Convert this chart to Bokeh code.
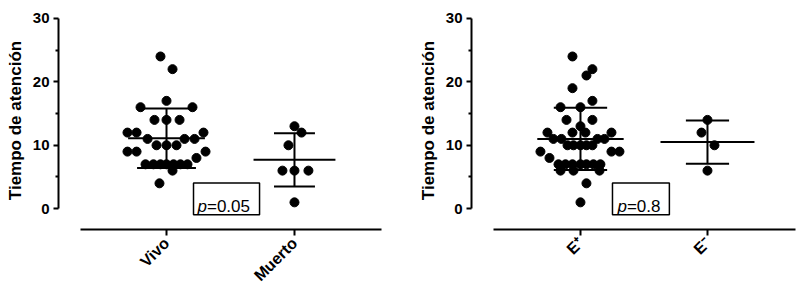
from math import pi
from bokeh.plotting import figure
from bokeh.layouts import row
from bokeh.models import FixedTicker, Label, BoxAnnotation, ColumnDataSource, Range1d
from bokeh.embed import file_html
from bokeh.resources import INLINE

# ---------------- data ----------------
# Left panel: Vivo / Muerto
left_groups = ["Vivo", "Muerto"]
vivo_values = [24, 22, 17, 16, 16, 14, 14, 14, 12, 12, 12, 11, 11, 11, 10, 10, 10,
               9, 9, 9, 8, 7, 7, 7, 7, 7, 7, 7, 6, 4]
muerto_values = [13, 12, 10, 6, 6, 6, 1]
left_mean = [11.1, 7.7]
left_sd = [4.7, 4.2]
left_p = "0.05"

# Right panel: E+ / E-
right_groups = ["E\u207a", "E\u207b"]
eplus_values = [24, 22, 21, 19, 17, 16, 16, 14, 14, 13, 12, 12, 12, 12, 11, 11, 11, 11,
                10, 10, 10, 10, 10, 9, 9, 9, 8, 7, 7, 7, 7, 7, 7, 7, 6, 6, 6, 4, 1]
eminus_values = [14, 12, 10, 6]
right_mean = [11.0, 10.5]
right_sd = [4.9, 3.4]
right_p = "0.8"

y_ticks = [0, 10, 20, 30]
y_minor = [5, 15, 25]
y_title = "Tiempo de atención"

# horizontal swarm offsets of the dots (category units)
vivo_swarm = [-0.047, 0.047, 0, -0.203, 0.203, -0.094, 0, 0.102, -0.305, -0.234, 0.289,
              -0.148, 0.141, 0.219, -0.078, 0, 0.078, -0.305, -0.234, 0.305, 0.234,
              -0.164, -0.102, -0.047, 0, 0.055, 0.109, 0.164, 0.047, -0.055]
muerto_swarm = [0, 0.055, -0.047, -0.094, 0, 0.109, 0]
eplus_swarm = [-0.063, 0.094, 0.047, -0.063, 0.094, -0.157, 0, -0.110, 0.094, 0,
               -0.260, -0.063, 0.039, 0.244, -0.213, -0.150, 0.134, 0.189,
               -0.102, -0.055, 0, 0.047, 0.094, -0.315, 0.244, 0.307, -0.244,
               -0.173, -0.118, -0.063, 0, 0.047, 0.102, 0.157, -0.157, -0.055, 0.150,
               0.047, 0]
eminus_swarm = [0, -0.047, 0.055, 0]

FONT = "Liberation Sans"


def make_panel(groups, series, swarms, means, sds, mean_half, cap_half, p_value,
               width, border_left, border_right, x0, x1, xb, box, text_x):
    p = figure(width=width, height=293,
               x_range=Range1d(x0, x1), y_range=Range1d(-3.28, 31.09),
               output_backend="svg", toolbar_location=None,
               min_border_left=border_left, min_border_right=border_right,
               min_border_top=11, min_border_bottom=62)
    p.outline_line_color = None
    p.xgrid.visible = False
    p.ygrid.visible = False
    p.background_fill_color = "white"
    p.border_fill_color = "white"

    # y axis
    ya = p.yaxis[0]
    ya.ticker = FixedTicker(ticks=y_ticks, minor_ticks=y_minor)
    ya.bounds = (0, 30)
    ya.axis_line_width = 2
    ya.major_tick_line_width = 2
    ya.minor_tick_line_width = 2
    ya.major_tick_out = 5
    ya.major_tick_in = 0
    ya.minor_tick_out = 3
    ya.minor_tick_in = 0
    ya.major_label_standoff = 4
    ya.major_label_text_font = FONT
    ya.major_label_text_font_style = "bold"
    ya.major_label_text_font_size = "15px"
    ya.major_label_text_color = "black"
    ya.axis_label = y_title
    ya.axis_label_text_font = FONT
    ya.axis_label_text_font_style = "bold"
    ya.axis_label_text_font_size = "17px"
    ya.axis_label_text_color = "black"
    ya.axis_label_standoff = 5

    # x axis
    xa = p.xaxis[0]
    xa.ticker = FixedTicker(ticks=[1, 2])
    xa.bounds = (xb, x1)
    xa.major_label_overrides = {1: groups[0], 2: groups[1]}
    xa.axis_line_width = 2
    xa.major_tick_line_width = 2
    xa.major_tick_out = 6
    xa.major_tick_in = 0
    xa.minor_tick_out = 0
    xa.minor_tick_in = 0
    xa.major_label_orientation = pi / 4
    xa.major_label_standoff = 5
    xa.major_label_text_font = FONT
    xa.major_label_text_font_style = "bold"
    xa.major_label_text_font_size = "16px"
    xa.major_label_text_color = "black"

    # dots
    xs, ys = [], []
    for gi, (vals, sw) in enumerate(zip(series, swarms)):
        for v, d in zip(vals, sw):
            xs.append(gi + 1 + d)
            ys.append(v)
    p.scatter(x="x", y="y", source=ColumnDataSource(dict(x=xs, y=ys)),
              size=9, color="black", line_color="black")

    # mean and SD bars
    gx = [1, 2]
    lo = [m - s for m, s in zip(means, sds)]
    hi = [m + s for m, s in zip(means, sds)]
    vsrc = ColumnDataSource(dict(x=gx, lo=lo, hi=hi))
    p.segment(x0="x", y0="lo", x1="x", y1="hi", source=vsrc, line_width=2, color="black")
    msrc = ColumnDataSource(dict(
        x0=[g - h for g, h in zip(gx, mean_half)],
        x1=[g + h for g, h in zip(gx, mean_half)], y=means))
    p.segment(x0="x0", y0="y", x1="x1", y1="y", source=msrc, line_width=2, color="black")
    csrc = ColumnDataSource(dict(
        x0=[g - h for g, h in zip(gx, cap_half)] * 2,
        x1=[g + h for g, h in zip(gx, cap_half)] * 2, y=lo + hi))
    p.segment(x0="x0", y0="y", x1="x1", y1="y", source=csrc, line_width=2, color="black")

    # p-value box
    p.add_layout(BoxAnnotation(left=box[0], right=box[1], bottom=box[2], top=box[3],
                               fill_color="white", fill_alpha=1.0,
                               line_color="black", line_width=1.5, line_alpha=1.0))
    p.add_layout(Label(x=text_x, y=0.4, text="p", text_font=FONT,
                       text_font_style="italic", text_font_size="17px",
                       text_color="black", text_baseline="alphabetic"))
    p.add_layout(Label(x=text_x, y=0.4, x_offset=9.5, text="=" + p_value, text_font=FONT,
                       text_font_size="17px", text_color="black",
                       text_baseline="alphabetic"))
    return p


p1 = make_panel(left_groups, [vivo_values, muerto_values], [vivo_swarm, muerto_swarm],
                left_mean, left_sd, [0.30, 0.32], [0.23, 0.16], left_p,
                width=408, border_left=58, border_right=27,
                x0=0.156, x1=2.680, xb=0.328,
                box=(1.211, 1.727, -0.94, 4.06), text_x=1.242)
p2 = make_panel(right_groups, [eplus_values, eminus_values], [eplus_swarm, eminus_swarm],
                right_mean, right_sd, [0.34, 0.37], [0.21, 0.17], right_p,
                width=391, border_left=63, border_right=4,
                x0=0.142, x1=2.693, xb=0.315,
                box=(1.252, 1.70, -0.94, 4.06), text_x=1.291)

layout = row(p1, p2)
open("out.html", "w").write(file_html(layout, INLINE))
